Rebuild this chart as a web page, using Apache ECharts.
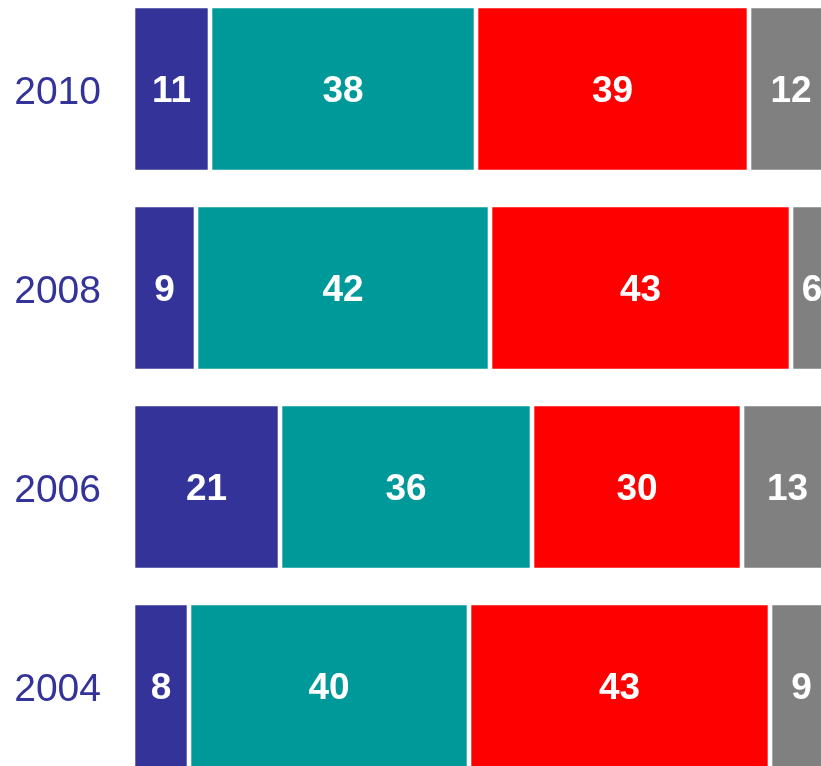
<!DOCTYPE html>
<html>
<head>
<meta charset="utf-8">
<script src="https://cdn.jsdelivr.net/npm/echarts@6/dist/echarts.min.js"></script>
<style>
html,body{margin:0;padding:0;background:#fff;}
#chart{width:821px;height:766px;}
</style>
</head>
<body>
<div id="chart"></div>
<script>
const years = ['2004', '2006', '2008', '2010'];
const seriesA = [8, 21, 9, 11];
const seriesB = [40, 36, 42, 38];
const seriesC = [43, 30, 43, 39];
const seriesD = [9, 13, 6, 12];
const colors = ['#333399', '#009999', '#ff0000', '#808080'];

const chart = echarts.init(document.getElementById('chart'));
function mk(name, data, color) {
  return {
    name: name,
    type: 'bar',
    stack: 'total',
    data: data,
    barWidth: 166,
    itemStyle: { color: color, borderColor: '#ffffff', borderWidth: 2.3 },
    label: {
      show: true,
      position: 'inside',
      color: '#ffffff',
      fontFamily: 'Liberation Sans, Arial, sans-serif',
      fontWeight: 'bold',
      fontSize: 37,
      offset: [0, 3]
    },
    emphasis: { disabled: true }
  };
}
chart.setOption({
  animation: false,
  grid: { left: 133, top: -10.5, width: 700, height: 796, containLabel: false, outerBoundsMode: 'none' },
  xAxis: {
    type: 'value', min: 0, max: 100,
    show: false
  },
  yAxis: {
    type: 'category',
    data: years,
    axisLine: { show: false },
    axisTick: { show: false },
    axisLabel: {
      margin: 32,
      formatter: '{y|{value}}',
      rich: {
        y: {
          color: '#333399',
          fontFamily: 'Liberation Sans, Arial, sans-serif',
          fontSize: 39,
          padding: [8, 0, 0, 0]
        }
      }
    }
  },
  series: [
    mk('A', seriesA, colors[0]),
    mk('B', seriesB, colors[1]),
    mk('C', seriesC, colors[2]),
    mk('D', seriesD, colors[3])
  ]
});
</script>
</body>
</html>
